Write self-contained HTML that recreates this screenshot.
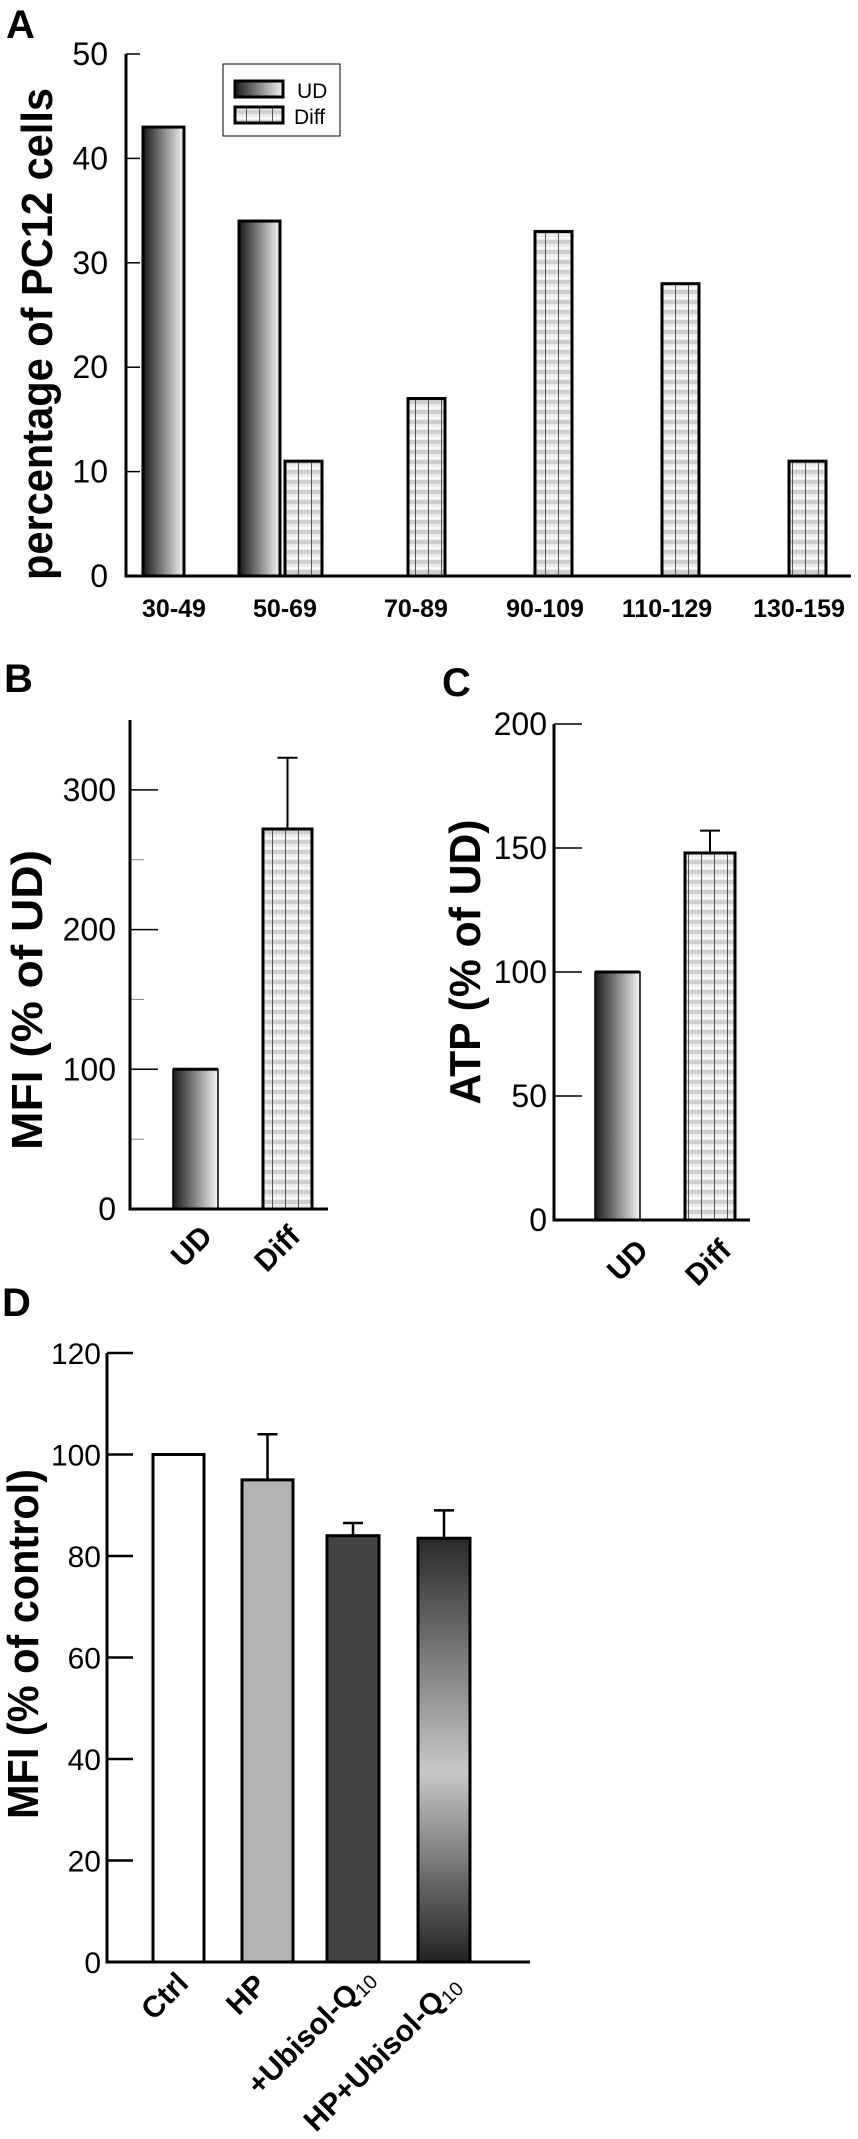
<!DOCTYPE html>
<html><head><meta charset="utf-8"><style>
html,body{margin:0;padding:0;background:#fff;}
svg{display:block;}
text{font-family:"Liberation Sans",sans-serif;}
.tk{font-size:32px;}
.tkd{font-size:30px;}
.ttl{font-weight:bold;font-size:44px;}
.cat{font-weight:bold;font-size:25px;}
.catr{font-weight:bold;font-size:30px;}
.pl{font-weight:bold;font-size:40px;}
</style></head><body>
<svg id="fig" width="858" height="2139" viewBox="0 0 858 2139" xmlns="http://www.w3.org/2000/svg">
<defs>
<linearGradient id="udg" x1="0" x2="1" y1="0" y2="0"><stop offset="0" stop-color="#1a1a1a"/><stop offset="1" stop-color="#f4f4f4"/></linearGradient>
<linearGradient id="hpu" x1="0" x2="0" y1="0" y2="1"><stop offset="0" stop-color="#2a2a2a"/><stop offset="0.55" stop-color="#c8c8c8"/><stop offset="1" stop-color="#222"/></linearGradient>
<pattern id="diffp" width="13" height="10" patternUnits="userSpaceOnUse">
<rect width="13" height="10" fill="#ececec"/><rect y="0" width="13" height="4" fill="#cfcfcf"/><rect y="7" width="13" height="2" fill="#fafafa"/>
<rect x="12" width="1.3" height="10" fill="#555"/>
</pattern>
</defs>
<g id="pA"></g>
<g id="pB"></g>
<g id="pC"></g>
<g id="pD"></g>
</svg>
<script>
const aCategories=["30-49","50-69","70-89","90-109","110-129","130-159"];
const aUD=[43,34,null,null,null,null];
const aDiff=[null,11,17,33,28,11];
const aTicks=[0,10,20,30,40,50];
const bCategories=["UD","Diff"];
const bValues=[100,272];
const bErr=[0,51];
const bTicks=[0,100,200,300];
const cCategories=["UD","Diff"];
const cValues=[100,148];
const cErr=[0,9];
const cTicks=[0,50,100,150,200];
const dCategories=["Ctrl","HP","+Ubisol-Q","HP+Ubisol-Q"];
const dValues=[100,95,84,83.5];
const dErr=[0,9,2.5,5.5];
const dTicks=[0,20,40,60,80,100,120];

const NS="http://www.w3.org/2000/svg";
function mk(parent,tag,attrs,txt){const e=document.createElementNS(NS,tag);for(const k in attrs)e.setAttribute(k,attrs[k]);if(txt!=null)e.textContent=txt;parent.appendChild(e);return e;}

// Panel A
(function(){
const g=document.getElementById('pA');
const x0=126,y0=576,yTop=54,ymax=50;
const ys=v=>y0-(y0-yTop)*v/ymax;
const udX=[143,239,0,0,0,0],diffX=[0,285,408,535,662,789];
const labX=[174,285,416,545,667,799];
let t=mk(g,'text',{x:6,y:38,class:'pl'},'A');

aTicks.forEach(v=>{const y=ys(v);
 let l=mk(g,'line',{x1:x0,x2:x0+14,y1:y,y2:y,stroke:'#000','stroke-width':1.5});
 
 let tt=mk(g,'text',{x:108,y:y+11,'text-anchor':'end',class:'tk'},String(v));
 });
aCategories.forEach((c,i)=>{
 if(aUD[i]!=null){const y=ys(aUD[i]);let r=mk(g,'rect',{x:udX[i],y:y,width:41,height:y0-y,fill:'url(#udg)',stroke:'#000','stroke-width':3});
  }
 if(aDiff[i]!=null){const y=ys(aDiff[i]);let r=mk(g,'rect',{x:diffX[i],y:y,width:37,height:y0-y,fill:'url(#diffp)',stroke:'#000','stroke-width':3});
  }
 let tl=mk(g,'text',{x:labX[i],y:617,'text-anchor':'middle',class:'cat'},c);
 
});
let ax=mk(g,'path',{d:`M${x0} ${yTop}V${y0}H851`,fill:'none',stroke:'#000','stroke-width':3});

let yt=mk(g,'text',{x:0,y:0,class:'ttl','text-anchor':'middle',transform:'translate(52,334) rotate(-90)',textLength:492,lengthAdjust:'spacingAndGlyphs'},'percentage of PC12 cells');

const lg=mk(g,'g',{});
mk(lg,'rect',{x:223,y:64,width:117,height:72,fill:'#fff',stroke:'#000','stroke-width':1});
let s1=mk(lg,'rect',{x:235,y:81,width:48,height:16,fill:'url(#udg)',stroke:'#000','stroke-width':3});

let s2=mk(lg,'rect',{x:235,y:107,width:48,height:16,fill:'url(#diffp)',stroke:'#000','stroke-width':3});

let l1=mk(lg,'text',{x:297,y:98,'font-size':'21px'},'UD');
let l2=mk(lg,'text',{x:294,y:124,'font-size':'21px'},'Diff');
})();

function smallPanel(id,letter,lx,ly,x0,y0,yTop,ymax,axEnd,ticks,minor,vals,errs,cats,barX,barW,labPos,title,titleX,titleY,titleLen,labRight){
 const g=document.getElementById(id);
 const ys=v=>y0-(y0-yTop)*v/ymax;
 let t=mk(g,'text',{x:lx,y:ly,class:'pl'},letter);
 
 ticks.forEach(v=>{const y=ys(v);
  let l=mk(g,'line',{x1:x0,x2:x0+28,y1:y,y2:y,stroke:'#000','stroke-width':1.5});
  
  let tt=mk(g,'text',{x:labRight,y:y+11,'text-anchor':'end',class:'tk'},String(v));
  });
 minor.forEach(v=>{const y=ys(v);let l=mk(g,'line',{x1:x0,x2:x0+14,y1:y,y2:y,stroke:'#888','stroke-width':1});
  });
 cats.forEach((c,i)=>{
  const y=ys(vals[i]);const cx=barX[i]+barW[i]/2;
  if(errs[i]>0){const ye=ys(vals[i]+errs[i]);
   let e=mk(g,'path',{d:`M${cx} ${y}V${ye}M${cx-10} ${ye}H${cx+10}`,stroke:'#000','stroke-width':2,fill:'none'});
   }
  let r=mk(g,'rect',{x:barX[i],y:y,width:barW[i],height:y0-y,fill:i==0?'url(#udg)':'url(#diffp)',stroke:'#000','stroke-width':i==0?1.5:3});
  
  if(i==0){let tp=mk(g,'line',{x1:barX[i],x2:barX[i]+barW[i],y1:y,y2:y,stroke:'#000','stroke-width':3});}
  let tl=mk(g,'text',{x:0,y:0,class:'catr','text-anchor':'end',transform:`translate(${labPos[i][0]},${labPos[i][1]}) rotate(-45)`},c);
  
 });
 let ax=mk(g,'path',{d:`M${x0} ${yTop}V${y0}H${axEnd}`,fill:'none',stroke:'#000','stroke-width':3});
 
 let yt=mk(g,'text',{x:0,y:0,class:'ttl','text-anchor':'middle',transform:`translate(${titleX},${titleY}) rotate(-90)`,textLength:titleLen,lengthAdjust:'spacingAndGlyphs'},title);
 
}
smallPanel('pB','B',4,692,130,1209,720,350,328,bTicks,[50,150,250],bValues,bErr,bCategories,[173,263],[45,49],[[214,1238],[302,1238]],'MFI (% of UD)',42,1000,300,116);
smallPanel('pC','C',442,696,554,1220,724,200,750,cTicks,[],cValues,cErr,cCategories,[595,685],[45,50],[[650,1252],[733,1252]],'ATP (% of UD)',480,962,285,547);

// Panel D
(function(){
const g=document.getElementById('pD');
const x0=107,y0=1962,yTop=1353,ymax=120;
const ys=v=>y0-(y0-yTop)*v/ymax;
const barX=[153,242,327,418],barW=[51,51,52,52];
const fills=['#fff','#b3b3b3','#444','url(#hpu)'];
const labEnd=[[190,1985],[268,1987],[376,1980],[462,1987]];
let t=mk(g,'text',{x:2,y:1316,class:'pl'},'D');

dTicks.forEach(v=>{const y=ys(v);
 let l=mk(g,'line',{x1:x0,x2:x0+26,y1:y,y2:y,stroke:'#000','stroke-width':2.5});
 
 let tt=mk(g,'text',{x:101,y:y+11,'text-anchor':'end',class:'tkd'},String(v));
 });
dCategories.forEach((c,i)=>{
 const y=ys(dValues[i]);const cx=barX[i]+barW[i]/2;
 if(dErr[i]>0){const ye=ys(dValues[i]+dErr[i]);
  let e=mk(g,'path',{d:`M${cx} ${y}V${ye}M${cx-10} ${ye}H${cx+10}`,stroke:'#000','stroke-width':2.5,fill:'none'});
  }
 let r=mk(g,'rect',{x:barX[i],y:y,width:barW[i],height:y0-y,fill:fills[i],stroke:'#000','stroke-width':3});
 
 let tl=mk(g,'text',{x:0,y:0,class:'catr','text-anchor':'end',transform:`translate(${labEnd[i][0]},${labEnd[i][1]}) rotate(-45)`},c);
 if(c.endsWith('-Q')){mk(tl,'tspan',{'font-size':'20px',dy:'4','font-weight':'normal'},'10');}
 
});
let ax=mk(g,'path',{d:`M${x0} ${yTop}V${y0}H530`,fill:'none',stroke:'#000','stroke-width':3});

let yt=mk(g,'text',{x:0,y:0,class:'ttl','text-anchor':'middle',transform:'translate(38,1644) rotate(-90)',textLength:350,lengthAdjust:'spacingAndGlyphs'},'MFI (% of control)');

})();
</script>
</body></html>
